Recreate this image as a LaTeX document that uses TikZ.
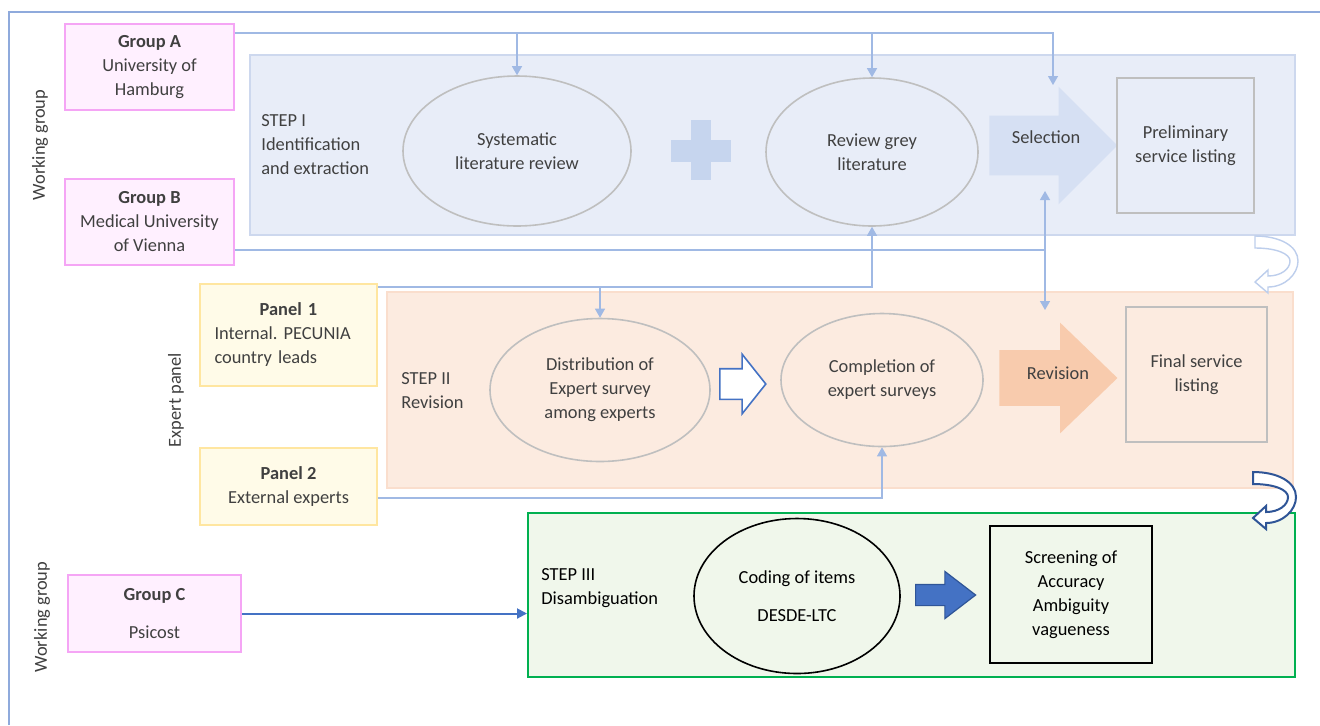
\documentclass[tikz,border=0pt]{standalone}
\usepackage{fontspec}
\setmainfont{Carlito}
\usepackage{xcolor}
\usetikzlibrary{arrows.meta,shapes.geometric,shapes.arrows}

\definecolor{framecol}{RGB}{143,170,220}
\definecolor{pinkline}{RGB}{245,165,245}
\definecolor{pinkfill}{RGB}{255,240,255}
\definecolor{yelline}{RGB}{255,230,160}
\definecolor{yelfill}{RGB}{255,251,232}
\definecolor{onefill}{RGB}{232,237,248}
\definecolor{oneline}{RGB}{205,216,238}
\definecolor{twofill}{RGB}{252,235,224}
\definecolor{twoline}{RGB}{250,222,205}
\definecolor{threefill}{RGB}{240,247,235}
\definecolor{threeline}{RGB}{0,176,80}
\definecolor{grayline}{RGB}{191,191,191}
\definecolor{textgray}{RGB}{64,64,64}
\definecolor{linkcol}{RGB}{160,185,228}
\definecolor{plusfill}{RGB}{198,213,238}
\definecolor{selfill}{RGB}{214,224,243}
\definecolor{revfill}{RGB}{248,203,173}
\definecolor{midblue}{RGB}{68,114,196}
\definecolor{darkblue}{RGB}{47,85,151}

\tikzset{
  group/.style={draw=pinkline, fill=pinkfill, line width=0.8pt, minimum width=84.5pt,
    minimum height=43pt, align=center, inner sep=0pt, text=textgray},
  panel/.style={draw=yelline, fill=yelfill, line width=0.8pt, minimum width=88.5pt,
    inner sep=0pt, text=textgray},
  oval/.style={ellipse, draw=grayline, line width=0.8pt, align=center, inner sep=0pt, text=textgray},
  listbox/.style={draw=grayline, line width=0.8pt, align=center, inner sep=0pt, text=textgray},
  steplabel/.style={anchor=west, align=left, inner sep=0pt},
  link/.style={draw=linkcol, line width=0.6pt},
  blockarrow/.style={single arrow, anchor=tail, inner xsep=0pt, single arrow head indent=0pt},
  curvearrow/.pic={
    \draw[pic actions] (0,0) .. controls (25,0) and (43,10) .. (43,25)
      .. controls (43,38) and (30,51) .. (13,51) -- (13,57) -- (0,46) -- (13,34) -- (13,40)
      .. controls (26,40) and (35,33) .. (35,25) .. controls (35,18) and (22,12) .. (0,12) -- cycle;
  }
}

\begin{document}
\begin{tikzpicture}[x=0.5pt, y=-0.5pt, font=\fontsize{9.2}{12}\selectfont\frenchspacing,
    >={Triangle[length=4.5pt,width=5pt]}]
  \fill[white] (0,0) rectangle (1320,725);
  \useasboundingbox (0,0) rectangle (1320,725);
  \draw[framecol, line width=1pt] (9,725) -- (9,12) -- (1320,12);

  % step boxes
  \node[draw=oneline, fill=onefill, line width=0.8pt, minimum width=522.5pt, minimum height=90pt] (step1) at (772.5,145) {};
  \node[draw=twoline, fill=twofill, line width=0.8pt, minimum width=453pt, minimum height=98pt] (step2) at (840,390) {};
  \node[draw=threeline, fill=threefill, line width=1pt, minimum width=383.5pt, minimum height=82pt] (step3) at (911.5,595) {};

  % side labels
  \node[rotate=90, text=textgray] (wg1) at (40,145) {Working group};
  \node[rotate=90, text=textgray] (ep) at (176,400) {Expert panel};
  \node[rotate=90, text=textgray] (wg2) at (42,617) {Working group};

  % groups and panels
  \node[group] (grpA) at (149.5,67) {\textbf{Group A}\\University of\\Hamburg};
  \node[group] (grpB) at (149.5,222) {\textbf{Group B}\\Medical University\\of Vienna};
  \node[group, minimum width=86.5pt, minimum height=38.5pt] (grpC) at (154.5,613.5) {\textbf{Group C}\\[7pt]Psicost};
  \node[panel, minimum height=51pt, text width=74pt, align=left] (pan1) at (288.5,335)
    {\makebox[\linewidth]{\textbf{Panel 1}}\\Internal. PECUNIA\\country leads};
  \node[panel, minimum height=38.5pt, align=center] (pan2) at (288.5,486.5) {\textbf{Panel 2}\\External experts};

  % step I
  \node[steplabel, text=textgray] (lab1) at (261,145) {STEP I\\Identification\\and extraction};
  \node[oval, minimum width=114pt, minimum height=75pt] (sysrev) at (517,151) {Systematic\\literature review};
  \fill[plusfill] (671,140) rectangle (731,162);
  \fill[plusfill] (691,120) rectangle (711,180);
  \node[oval, minimum width=106pt, minimum height=74pt] (greyrev) at (872,152) {Review grey\\literature};
  \node[blockarrow, fill=selfill, minimum height=64pt, inner ysep=14.75pt,
    single arrow head extend=14.5pt] (sel) at (989,145.5) {};
  \node[text=textgray] (sellab) at (1046,137) {Selection};
  \node[listbox, minimum width=68.5pt, minimum height=67.5pt] (prelim) at (1185.5,145.5) {Preliminary\\service listing};

  % step II
  \node[steplabel, text=textgray] (lab2) at (401,391) {STEP II\\Revision};
  \node[oval, minimum width=110pt, minimum height=71.5pt] (dist) at (600,390) {Distribution of\\Expert survey\\among experts};
  \node[blockarrow, draw=midblue, fill=white, line width=0.8pt, minimum height=23pt, inner ysep=7.25pt,
    single arrow head extend=7.25pt, single arrow tip angle=103] (hollow) at (719,384) {};
  \node[oval, minimum width=101pt, minimum height=66.5pt] (compl) at (882,380) {Completion of\\expert surveys};
  \node[blockarrow, fill=revfill, minimum height=59pt, inner ysep=13.75pt,
    single arrow head extend=13.75pt, single arrow tip angle=88] (rev) at (999,378) {};
  \node[text=textgray] (revlab) at (1058,373) {Revision};
  \node[listbox, minimum width=70.5pt, minimum height=67.5pt] (final) at (1196.5,374.5) {Final service\\listing};

  % step III
  \node[steplabel] (lab3) at (541,588) {STEP III\\Disambiguation};
  \node[ellipse, draw=black, line width=0.8pt, inner sep=0pt, minimum width=103pt, minimum height=77.5pt,
    align=center] (coding) at (797,596) {Coding of items\\[7pt]DESDE-LTC};
  \node[blockarrow, draw=darkblue, fill=midblue, line width=0.6pt, minimum height=30pt, inner ysep=5pt,
    single arrow head extend=6.5pt, single arrow tip angle=75] (codearrow) at (915,595) {};
  \node[draw=black, line width=0.8pt, minimum width=81pt, minimum height=68.5pt, align=center,
    inner sep=0pt] (screen) at (1071,594.5) {Screening of\\Accuracy\\Ambiguity\\vagueness};

  % connectors
  \coordinate (topbus) at (1053,33);
  \coordinate (selin) at (1053,85);
  \draw[link, ->] (grpA.east |- topbus) -- (topbus) -- (selin);
  \draw[link, ->] (sysrev.north |- topbus) -- (sysrev.north);
  \draw[link, ->] (greyrev.north |- topbus) -- (greyrev.north);

  \coordinate (bbus) at (1045,250);
  \coordinate (selbot) at (1045,191);
  \coordinate (revtop) at (1045,310);
  \draw[link] (grpB.east |- bbus) -- (bbus);
  \draw[link, <->] (selbot) -- (revtop);

  \coordinate (p1bus) at (872,287);
  \draw[link, ->] (pan1.east |- p1bus) -- (p1bus) -- (greyrev.south);
  \draw[link, ->] (dist.north |- p1bus) -- (dist.north);

  \coordinate (p2bus) at (882,498);
  \draw[link, ->] (pan2.east |- p2bus) -- (p2bus) -- (compl.south);

  \draw[midblue, line width=1pt, -{Triangle[length=5pt,width=5pt]}] (grpC.east) -- (step3.west |- grpC.east);

  % curved arrows
  \pic[draw=linkcol!70, fill=white, line width=0.7pt] at (1255,236) {curvearrow};
  \pic[draw=darkblue, fill=white, line width=1pt] at (1253,472) {curvearrow};
\end{tikzpicture}
\end{document}
